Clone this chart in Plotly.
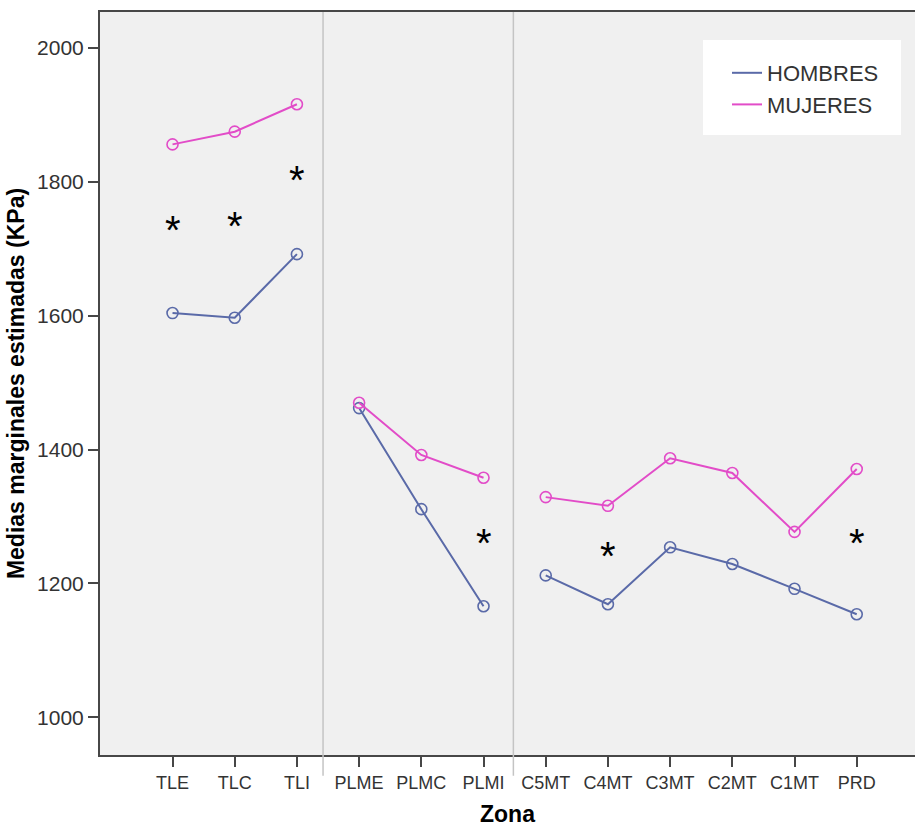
import plotly.graph_objects as go

# Medias marginales estimadas de presión (KPa) por zona y sexo
zonas = ["TLE", "TLC", "TLI", "PLME", "PLMC", "PLMI",
         "C5MT", "C4MT", "C3MT", "C2MT", "C1MT", "PRD"]
# regiones anatómicas: las líneas solo unen zonas de la misma región
regiones = [["TLE", "TLC", "TLI"],
            ["PLME", "PLMC", "PLMI"],
            ["C5MT", "C4MT", "C3MT", "C2MT", "C1MT", "PRD"]]
hombres = [1604, 1597, 1692, 1462, 1311, 1166,
           1212, 1169, 1254, 1229, 1192, 1154]
mujeres = [1856, 1875, 1916, 1470, 1392, 1358,
           1329, 1316, 1387, 1365, 1277, 1371]
# zonas con diferencia significativa entre sexos
zonas_signif = ["TLE", "TLC", "TLI", "PLMI", "C4MT", "PRD"]
ticks_y = [1000, 1200, 1400, 1600, 1800, 2000]

FONT = "Liberation Sans, Arial, sans-serif"
AZUL = "#5a6aa8"
ROSA = "#e24cc8"
EJE = "#474747"

x = list(range(len(zonas)))


def por_regiones(valores):
    """Inserta huecos entre regiones para que la línea no las una."""
    xs, ys = [], []
    for reg in regiones:
        for z in reg:
            i = zonas.index(z)
            xs.append(i)
            ys.append(valores[i])
        xs.append(None)
        ys.append(None)
    return xs, ys


fig = go.Figure()

for nombre, valores, color in [("HOMBRES", hombres, AZUL), ("MUJERES", mujeres, ROSA)]:
    lx, ly = por_regiones(valores)
    fig.add_trace(go.Scatter(x=lx, y=ly, mode="lines", name=nombre, connectgaps=False,
                             line=dict(color=color, width=2), hoverinfo="skip"))
    fig.add_trace(go.Scatter(x=x, y=valores, mode="markers", showlegend=False, name=nombre,
                             marker=dict(symbol="circle-open", size=11, color=color,
                                         line=dict(width=1.6, color=color))))

# asteriscos de significación, a medio camino entre ambas medias
for z in zonas_signif:
    i = zonas.index(z)
    fig.add_annotation(x=i, y=(hombres[i] + mujeres[i]) / 2, text="*",
                       showarrow=False, yshift=-1,
                       font=dict(family=FONT, size=40, color="black"))

# separadores entre regiones
for xs in [2.42, 5.48]:
    fig.add_shape(type="line", xref="x", yref="paper", x0=xs, x1=xs, y0=-0.028, y1=1,
                  line=dict(color="#c4c4c4", width=1.5), layer="above")

# recuadro blanco de la leyenda
fig.add_shape(type="rect", xref="paper", yref="paper",
              x0=(703 - 100) / 815, x1=(901 - 100) / 815,
              y0=(755 - 135) / 743, y1=(755 - 40) / 743,
              fillcolor="white", line=dict(width=0), layer="below")

fig.update_layout(
    width=915, height=827,
    margin=dict(l=100, r=0, t=12, b=72),
    paper_bgcolor="white", plot_bgcolor="#f0f0f0",
    font=dict(family=FONT, color="#333333"),
    showlegend=True,
    legend=dict(x=(727 - 100) / 815, y=(755 - 52) / 743, xanchor="left", yanchor="top",
                bgcolor="rgba(0,0,0,0)", font=dict(family=FONT, size=22, color="#333333"),
                tracegroupgap=0, itemwidth=30),
    xaxis=dict(range=[-1.166, 11.937], tickmode="array", tickvals=x, ticktext=zonas,
               showgrid=False, zeroline=False, showline=True, mirror=True,
               linecolor=EJE, linewidth=2, ticks="outside", ticklen=10, tickwidth=2,
               tickcolor=EJE, tickfont=dict(family=FONT, size=18, color="#333333"),
               title=dict(text="<b>Zona</b>", font=dict(family=FONT, size=23, color="black"),
                          standoff=17)),
    yaxis=dict(range=[943.7, 2053.8], tickmode="array", tickvals=ticks_y,
               showgrid=False, zeroline=False, showline=True,
               linecolor=EJE, linewidth=2, ticks="outside", ticklen=10, tickwidth=2,
               tickcolor=EJE, tickfont=dict(family=FONT, size=21, color="#333333"),
               title=dict(text="<b>Medias marginales estimadas (KPa)</b>",
                          font=dict(family=FONT, size=23, color="black"), standoff=6)),
)

fig.write_html("out.html")
